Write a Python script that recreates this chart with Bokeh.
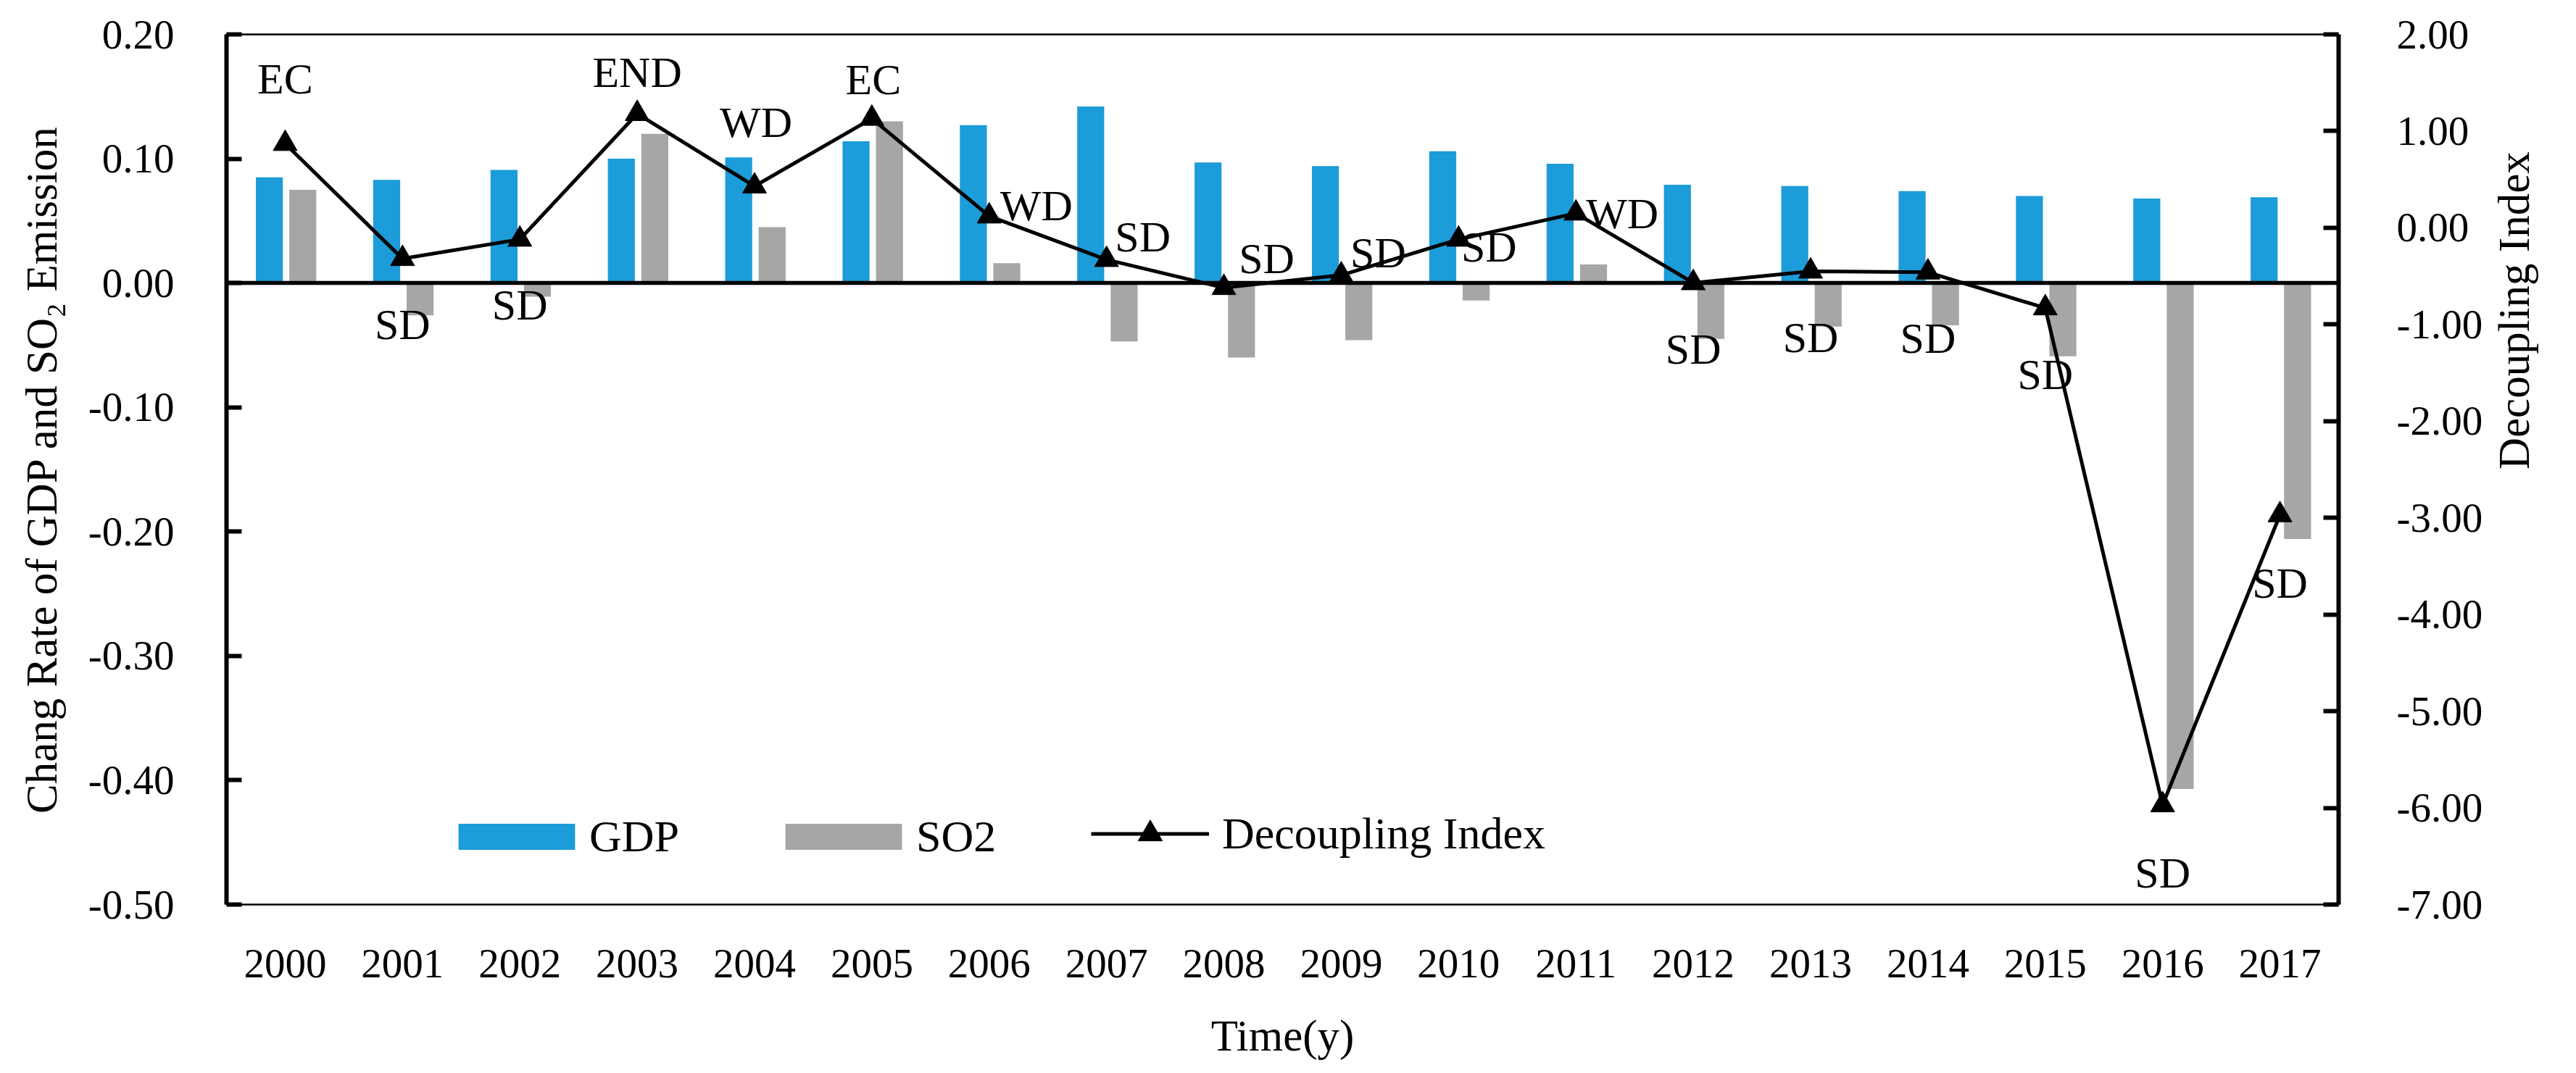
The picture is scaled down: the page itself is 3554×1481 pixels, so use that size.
import math
from bokeh.plotting import figure
from bokeh.models import (ColumnDataSource, FactorRange, Range1d, LinearAxis, FixedTicker,
                          PrintfTickFormatter, Legend, LegendItem)
from bokeh.transform import dodge
from bokeh.core.properties import value
from bokeh.embed import file_html
from bokeh.resources import INLINE

# ---------------- data ----------------
years = [str(y) for y in range(2000, 2018)]
gdp = [0.085, 0.083, 0.091, 0.100, 0.101, 0.114, 0.127, 0.142, 0.097, 0.094,
       0.106, 0.096, 0.079, 0.078, 0.074, 0.070, 0.068, 0.069]
so2 = [0.075, -0.026, -0.011, 0.120, 0.045, 0.130, 0.016, -0.047, -0.060, -0.046,
       -0.014, 0.015, -0.045, -0.035, -0.034, -0.059, -0.407, -0.206]
decoupling = [0.87, -0.32, -0.12, 1.18, 0.43, 1.13, 0.12, -0.33, -0.62, -0.49,
              -0.12, 0.15, -0.57, -0.45, -0.46, -0.83, -5.97, -2.97]
states = ["EC", "SD", "SD", "END", "WD", "EC", "WD", "SD", "SD", "SD",
          "SD", "WD", "SD", "SD", "SD", "SD", "SD", "SD"]
left_ticks = [-0.5, -0.4, -0.3, -0.2, -0.1, 0.0, 0.1, 0.2]
right_ticks = [-7, -6, -5, -4, -3, -2, -1, 0, 1, 2]

# label placement (pixel offsets from each marker)
label_dx = [0, 0, 0, 0, 2, 2, 65, 50, 59, 51, 42, 64, 0, 0, 0, 0, 0, 0]
label_dy = [-89, 91, 91, -57, -88, -54, -14, -31, -40, -31, 11, 1, 92, 92, 91, 92, 94, 94]

FONT = "Liberation Serif"
BLUE = "#1C9CD8"
GREY = "#A6A6A6"

src = ColumnDataSource(dict(year=years, gdp=gdp, so2=so2, di=decoupling,
                            state=states, dx=label_dx, dy=label_dy))

p = figure(x_range=FactorRange(factors=years), y_range=Range1d(-0.5, 0.2),
           width=3538, height=1465, output_backend="svg", toolbar_location=None,
           min_border_left=312, min_border_right=306, min_border_top=47,
           min_border_bottom=215)
p.extra_y_ranges = {"di": Range1d(-7, 2)}
p.xgrid.visible = False
p.ygrid.visible = False
p.outline_line_color = "black"
p.outline_line_width = 2.5
p.background_fill_color = "white"
p.border_fill_color = "white"

r_gdp = p.vbar(x=dodge("year", -0.135, range=p.x_range), top="gdp", width=0.23,
               source=src, fill_color=BLUE, line_color=None)
r_so2 = p.vbar(x=dodge("year", 0.15, range=p.x_range), top="so2", width=0.23,
               source=src, fill_color=GREY, line_color=None)
p.hspan(y=[0], line_color="black", line_width=5.5)
r_line = p.line("year", "di", source=src, y_range_name="di",
                line_color="black", line_width=5)
r_mark = p.scatter("year", "di", source=src, y_range_name="di", marker="triangle",
                   size=33, fill_color="black", line_color="black")
p.text(x="year", y="di", text="state", x_offset="dx", y_offset="dy", source=src,
       y_range_name="di", text_align="center", text_baseline="middle",
       text_font=value(FONT), text_font_size="60px", text_color="black")

# left axis
ax = p.yaxis[0]
ax.ticker = FixedTicker(ticks=left_ticks)
ax.formatter = PrintfTickFormatter(format="%.2f")
ax.major_tick_in = 21
ax.major_tick_out = 0
ax.minor_tick_in = 0
ax.minor_tick_out = 0
ax.major_tick_line_width = 6
ax.axis_line_width = 6
ax.major_label_standoff = 72
ax.major_label_text_font = FONT
ax.major_label_text_font_size = "57px"
ax.major_label_text_color = "black"
ax.axis_label = "Chang Rate of GDP and SO\u2082 Emission"
ax.axis_label_text_font = FONT
ax.axis_label_text_font_size = "61px"
ax.axis_label_text_font_style = "normal"
ax.axis_label_text_color = "black"
ax.axis_label_standoff = 28

# right axis
ra = LinearAxis(y_range_name="di", ticker=FixedTicker(ticks=right_ticks),
                formatter=PrintfTickFormatter(format="%.2f"))
ra.major_tick_in = 21
ra.major_tick_out = 0
ra.minor_tick_in = 0
ra.minor_tick_out = 0
ra.major_tick_line_width = 6
ra.axis_line_width = 6
ra.major_label_standoff = 80
ra.major_label_text_font = FONT
ra.major_label_text_font_size = "57px"
ra.major_label_text_color = "black"
ra.axis_label = "Decoupling Index"
ra.axis_label_text_font = FONT
ra.axis_label_text_font_size = "61px"
ra.axis_label_text_font_style = "normal"
ra.axis_label_text_color = "black"
ra.axis_label_standoff = 40
try:
    ra.axis_label_orientation = math.pi / 2
except Exception:
    ra.axis_label_orientation = "parallel"
p.add_layout(ra, "right")

# bottom axis
xa = p.xaxis[0]
xa.major_tick_line_color = None
xa.minor_tick_line_color = None
xa.axis_line_color = None
xa.major_label_standoff = 56
xa.major_label_text_font = FONT
xa.major_label_text_font_size = "57px"
xa.major_label_text_color = "black"
xa.axis_label = "Time(y)"
xa.axis_label_text_font = FONT
xa.axis_label_text_font_size = "61px"
xa.axis_label_text_font_style = "normal"
xa.axis_label_text_color = "black"
xa.axis_label_standoff = 44

common = dict(orientation="horizontal",
              padding=0, margin=0, border_line_alpha=0, background_fill_alpha=0,
              label_text_font=FONT, label_text_font_size="62px",
              label_text_color="black", label_height=36)
legend_bars = Legend(items=[LegendItem(label="GDP", renderers=[r_gdp]),
                            LegendItem(label="SO2", renderers=[r_so2])],
                     location=(300, 58), glyph_width=201, glyph_height=45,
                     label_standoff=0, spacing=126, **common)
legend_line = Legend(items=[LegendItem(label="Decoupling Index", renderers=[r_line, r_mark])],
                     location=(1193, 56), glyph_width=163, glyph_height=83,
                     label_standoff=18, spacing=0, **common)
p.add_layout(legend_bars)
p.add_layout(legend_line)

open("out.html", "w").write(file_html(p, INLINE))
